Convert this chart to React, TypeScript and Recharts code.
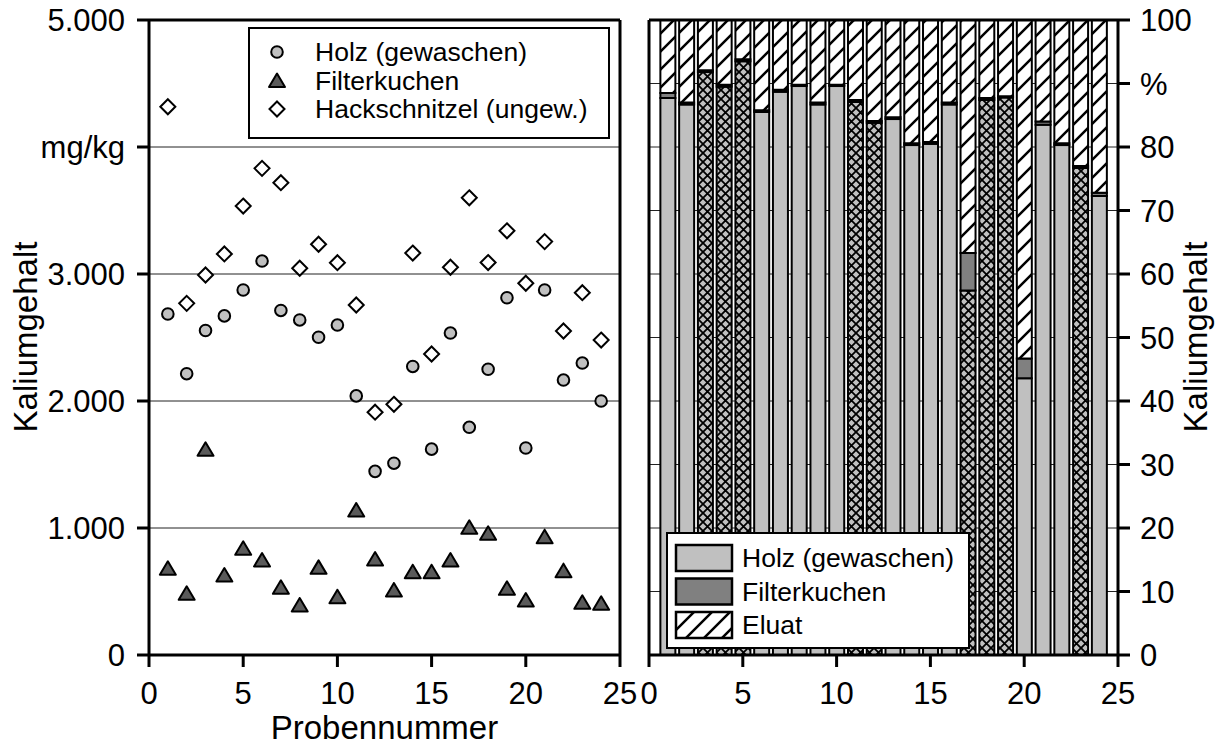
import React from "react"
import {
  ScatterChart,
  Scatter,
  BarChart,
  Bar,
  Cell,
  XAxis,
  YAxis,
  CartesianGrid,
  ReferenceLine,
  Legend,
} from "recharts"

const FONT = "'Liberation Sans', Arial, Helvetica, sans-serif"

// Probennummer 1..24
const samples = [1, 2, 3, 4, 5, 6, 7, 8, 9, 10, 11, 12, 13, 14, 15, 16, 17, 18, 19, 20, 21, 22, 23, 24]

// linke Grafik, mg/kg
const holzMg = [2685, 2215, 2555, 2670, 2874, 3102, 2713, 2638, 2502, 2598, 2040, 1446, 1510, 2272, 1621, 2535, 1793, 2250, 2813, 1630, 2874, 2165, 2299, 2000]
const filterMg = [683, 486, 1620, 630, 840, 748, 533, 394, 690, 459, 1142, 756, 512, 656, 656, 748, 1005, 958, 525, 433, 932, 664, 415, 407]
const hackMg = [4317, 2769, 2992, 3158, 3535, 3832, 3719, 3045, 3234, 3089, 2756, 1912, 1974, 3165, 2370, 3053, 3600, 3090, 3340, 2927, 3255, 2551, 2853, 2480]

// rechte Grafik, Anteile in %
const holzPct = [87.7, 86.7, 91.8, 89.5, 93.5, 85.5, 88.7, 89.6, 86.7, 89.6, 87.1, 83.8, 84.4, 80.3, 80.5, 86.7, 57.4, 87.4, 87.8, 43.6, 83.5, 80.3, 76.7, 72.3]
const filterPct = [0.8, 0.3, 0.3, 0.3, 0.3, 0.3, 0.3, 0.2, 0.3, 0.2, 0.3, 0.3, 0.3, 0.3, 0.3, 0.3, 5.9, 0.3, 0.2, 3.1, 0.5, 0.3, 0.3, 0.5]
const eluatPct = [11.5, 13.0, 7.9, 10.2, 6.2, 14.2, 11.0, 10.2, 13.0, 10.2, 12.6, 15.9, 15.3, 19.4, 19.2, 13.0, 36.7, 12.3, 12.0, 53.3, 16.0, 19.4, 23.0, 27.2]
// Proben mit Kreuzschraffur im Holzanteil
const crossHatched = [3, 4, 5, 11, 12, 17, 18, 19, 23]

const xTicks = [0, 5, 10, 15, 20, 25]
const yTicksLeft = [0, 1000, 2000, 3000, 4000, 5000]
const yLabelsLeft = ["0", "1.000", "2.000", "3.000", "mg/kg", "5.000"]
const yTicksRight = [0, 10, 20, 30, 40, 50, 60, 70, 80, 90, 100]
const yLabelsRight = ["0", "10", "20", "30", "40", "50", "60", "70", "80", "%", "100"]

const scatterNames = ["Holz (gewaschen)", "Filterkuchen", "Hackschnitzel (ungew.)"]
const barNames = ["Holz (gewaschen)", "Filterkuchen", "Eluat"]

const holzPts = samples.map((n, i) => ({ n, v: holzMg[i] }))
const filterPts = samples.map((n, i) => ({ n, v: filterMg[i] }))
const hackPts = samples.map((n, i) => ({ n, v: hackMg[i] }))
const barData = samples.map((n, i) => ({ n, holz: holzPct[i], filter: filterPct[i], eluat: eluatPct[i] }))

const tickStyle = { fill: "#000", fontSize: 31, fontFamily: FONT }
const axisLine = { stroke: "#000", strokeWidth: 3 }

const Circle = (p: any) => <circle cx={p.cx} cy={p.cy} r={5.8} fill="#c0c0c0" stroke="#000" strokeWidth={2} />
const Triangle = (p: any) => (
  <polygon
    points={`${p.cx},${p.cy - 7} ${p.cx - 8},${p.cy + 6.5} ${p.cx + 8},${p.cy + 6.5}`}
    fill="#5a5a5a"
    stroke="#000"
    strokeWidth={2}
    strokeLinejoin="round"
  />
)
const Diamond = (p: any) => (
  <polygon
    points={`${p.cx},${p.cy - 7.5} ${p.cx + 7.5},${p.cy} ${p.cx},${p.cy + 7.5} ${p.cx - 7.5},${p.cy}`}
    fill="#fff"
    stroke="#000"
    strokeWidth={2}
  />
)
const markers = [Circle, Triangle, Diamond]

function ScatterLegend() {
  return (
    <svg width={362} height={112}>
      <rect x={1} y={1} width={360} height={110} fill="#fff" stroke="#000" strokeWidth={2} />
      {scatterNames.map((name, i) => {
        const M = markers[i]
        const cy = 25 + i * 28.5
        return (
          <g key={name}>
            <M cx={29} cy={cy} />
            <text x={67} y={cy} dominantBaseline="central" fontSize={26.5} fontFamily={FONT} fill="#000">
              {name}
            </text>
          </g>
        )
      })}
    </svg>
  )
}

function BarLegend() {
  const fills = ["#c0c0c0", "#808080", "url(#eluat)"]
  return (
    <svg width={304} height={117}>
      <rect x={1} y={1} width={302} height={115} fill="#fff" stroke="#000" strokeWidth={2} />
      {barNames.map((name, i) => {
        const y = 13 + i * 33.5
        return (
          <g key={name}>
            <rect x={10} y={y} width={56} height={26} fill={fills[i]} stroke="#000" strokeWidth={2.5} />
            <text x={76} y={y + 13} dominantBaseline="central" fontSize={26.5} fontFamily={FONT} fill="#000">
              {name}
            </text>
          </g>
        )
      })}
    </svg>
  )
}

const rotated = (x: number, y: number) => () => (
  <text
    x={x}
    y={y}
    transform={`rotate(-90 ${x} ${y})`}
    textAnchor="middle"
    dominantBaseline="central"
    fontSize={33}
    fontFamily={FONT}
    fill="#000"
  >
    Kaliumgehalt
  </text>
)

export default function App() {
  return (
    <div style={{ position: "absolute", left: 0, top: 0, width: 1222, height: 749, background: "#fff" }}>
      <svg width={0} height={0} style={{ position: "absolute" }}>
        <defs>
          <pattern id="eluat" patternUnits="userSpaceOnUse" width={18} height={18}>
            <rect width={18} height={18} fill="#fff" />
            <path d="M-4.5,4.5 L4.5,-4.5 M0,18 L18,0 M13.5,22.5 L22.5,13.5" stroke="#000" strokeWidth={2.5} />
          </pattern>
          <pattern id="kreuz" patternUnits="userSpaceOnUse" width={9} height={9}>
            <rect width={9} height={9} fill="#c0c0c0" />
            <path d="M0,0 L9,9 M9,0 L0,9" stroke="#000" strokeWidth={1.8} />
          </pattern>
        </defs>
      </svg>

      <div style={{ position: "absolute", left: 0, top: 0 }}>
        <ScatterChart width={640} height={749} margin={{ top: 20, right: 20, bottom: 64, left: 89 }}>
          <CartesianGrid vertical={false} stroke="#222" strokeWidth={1} />
          <XAxis
            type="number"
            dataKey="n"
            domain={[0, 25]}
            ticks={xTicks}
            allowDataOverflow
            height={30}
            axisLine={axisLine}
            tickLine={axisLine}
            tickSize={12}
            tickMargin={15}
            tick={tickStyle}
            label={{ value: "Probennummer", position: "bottom", offset: 31, fill: "#000", fontSize: 33, fontFamily: FONT }}
          />
          <YAxis
            type="number"
            dataKey="v"
            domain={[0, 5000]}
            ticks={yTicksLeft}
            tickFormatter={(v: number) => yLabelsLeft[yTicksLeft.indexOf(v)]}
            allowDataOverflow
            width={60}
            axisLine={axisLine}
            tickLine={axisLine}
            tickSize={12}
            tickMargin={12}
            tick={tickStyle}
            label={{ content: rotated(25, 337) }}
          />
          <ReferenceLine y={5000} stroke="#000" strokeWidth={3} />
          <ReferenceLine x={25} stroke="#000" strokeWidth={3} />
          <Scatter name={scatterNames[0]} data={holzPts} shape={Circle} isAnimationActive={false} />
          <Scatter name={scatterNames[1]} data={filterPts} shape={Triangle} isAnimationActive={false} />
          <Scatter name={scatterNames[2]} data={hackPts} shape={Diamond} isAnimationActive={false} />
          <Legend
            layout="vertical"
            align="center"
            verticalAlign="middle"
            wrapperStyle={{ left: 248, top: 27, width: 362, height: 112 }}
            content={() => <ScatterLegend />}
          />
        </ScatterChart>
      </div>

      <div style={{ position: "absolute", left: 640, top: 0 }}>
        <BarChart width={582} height={749} data={barData} margin={{ top: 20, right: 44, bottom: 64, left: 9 }}>
          <CartesianGrid vertical={false} stroke="#222" strokeWidth={1} />
          <XAxis
            type="number"
            dataKey="n"
            domain={[0, 25]}
            ticks={xTicks}
            allowDataOverflow
            height={30}
            axisLine={axisLine}
            tickLine={axisLine}
            tickSize={12}
            tickMargin={15}
            tick={tickStyle}
          />
          <YAxis
            orientation="right"
            type="number"
            domain={[0, 100]}
            ticks={yTicksRight}
            tickFormatter={(v: number) => yLabelsRight[yTicksRight.indexOf(v)]}
            allowDataOverflow
            width={60}
            axisLine={axisLine}
            tickLine={axisLine}
            tickSize={12}
            tickMargin={10}
            tick={tickStyle}
            label={{ content: rotated(555, 337) }}
          />
          <Bar dataKey="holz" stackId="s" barSize={15} stroke="#000" strokeWidth={2} isAnimationActive={false}>
            {barData.map((d) => (
              <Cell key={d.n} fill={crossHatched.includes(d.n) ? "url(#kreuz)" : "#c0c0c0"} />
            ))}
          </Bar>
          <Bar dataKey="filter" stackId="s" barSize={15} fill="#808080" stroke="#000" strokeWidth={2} isAnimationActive={false} />
          <Bar dataKey="eluat" stackId="s" barSize={15} fill="url(#eluat)" stroke="#000" strokeWidth={2} isAnimationActive={false} />
          <ReferenceLine y={100} stroke="#000" strokeWidth={3} />
          <ReferenceLine x={0} stroke="#000" strokeWidth={3} />
          <Legend
            layout="vertical"
            align="center"
            verticalAlign="middle"
            wrapperStyle={{ left: 26, top: 532, width: 304, height: 117 }}
            content={() => <BarLegend />}
          />
        </BarChart>
      </div>
    </div>
  )
}
